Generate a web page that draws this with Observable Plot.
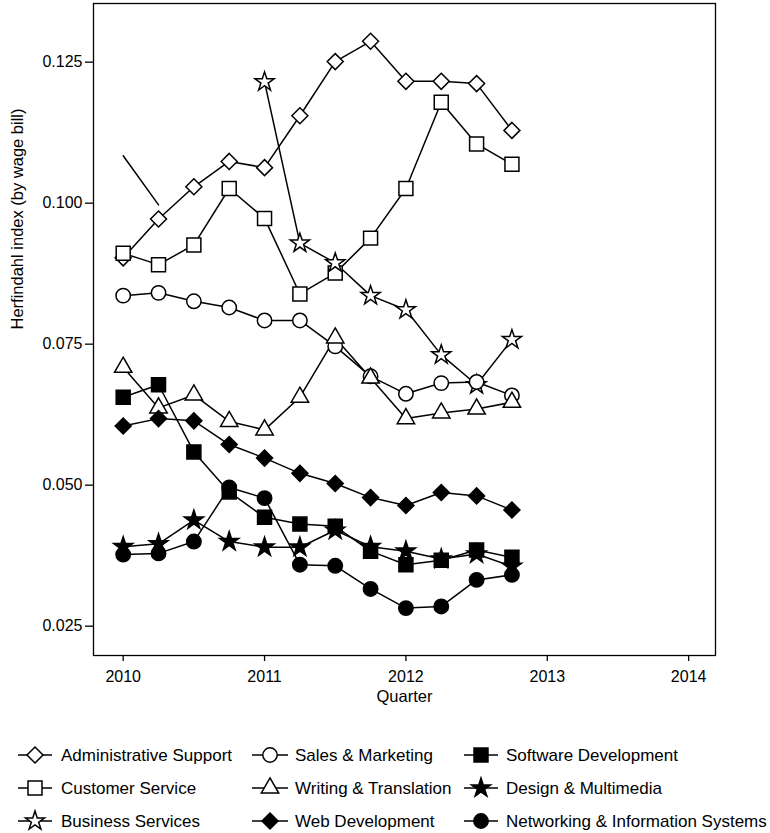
<!DOCTYPE html>
<html>
<head>
<meta charset="utf-8">
<script src="https://cdn.jsdelivr.net/npm/d3@7"></script>
<script src="https://cdn.jsdelivr.net/npm/@observablehq/plot@0.6"></script>
<style>
  html, body { margin: 0; padding: 0; background: white; }
  #chart svg { display: block; }
</style>
</head>
<body>
<div id="chart"></div>
<script>
const quarters = [2010, 2010.25, 2010.5, 2010.75, 2011, 2011.25, 2011.5, 2011.75, 2012, 2012.25, 2012.5, 2012.75];

const adminSupport        = [0.0903, 0.0972, 0.1029, 0.1074, 0.1063, 0.1155, 0.1251, 0.1287, 0.1216, 0.1216, 0.1212, 0.1129];
const customerService     = [0.0911, 0.0891, 0.0926, 0.1026, 0.0973, 0.0839, 0.0876, 0.0938, 0.1026, 0.1179, 0.1105, 0.1069];
const businessServices    = [null, null, null, null, 0.1215, 0.0929, 0.0894, 0.0836, 0.0811, 0.0731, 0.0678, 0.0758];
const salesMarketing      = [0.0836, 0.0841, 0.0826, 0.0815, 0.0792, 0.0792, 0.0746, 0.0693, 0.0662, 0.0681, 0.0683, 0.0659];
const writingTranslation  = [0.0709, 0.0637, 0.0660, 0.0613, 0.0598, 0.0656, 0.0761, 0.0690, 0.0618, 0.0628, 0.0635, 0.0647];
const webDevelopment      = [0.0605, 0.0618, 0.0614, 0.0572, 0.0548, 0.0521, 0.0503, 0.0478, 0.0464, 0.0487, 0.0481, 0.0456];
const softwareDevelopment = [0.0656, 0.0678, 0.0559, 0.0488, 0.0443, 0.0431, 0.0427, 0.0383, 0.0359, 0.0367, 0.0385, 0.0372];
const designMultimedia    = [0.0391, 0.0396, 0.0438, 0.0400, 0.0390, 0.0390, 0.0420, 0.0391, 0.0383, 0.0369, 0.0378, 0.0356];
const networkingSystems   = [0.0377, 0.0379, 0.0400, 0.0496, 0.0477, 0.0359, 0.0357, 0.0316, 0.0282, 0.0285, 0.0332, 0.0341];

// stray unmarked segment near 2010 in the original figure
const strayX = [2010, 2010.25];
const strayY = [0.1084, 0.0997];

const seriesNames = [
  "Administrative Support", "Customer Service", "Business Services",
  "Sales & Marketing", "Writing & Translation", "Web Development",
  "Software Development", "Design & Multimedia", "Networking & Information Systems"
];
const seriesValues = [
  adminSupport, customerService, businessServices,
  salesMarketing, writingTranslation, webDevelopment,
  softwareDevelopment, designMultimedia, networkingSystems
];
const seriesSymbols = ["diamond2", "square2", "star", "circle", "triangle2", "diamond2", "square2", "star", "circle"];
const seriesFilled  = [false, false, false, false, false, true, true, true, true];

const xTicks = [2010, 2011, 2012, 2013, 2014];
const yTicks = [0.025, 0.050, 0.075, 0.100, 0.125];
const xLabel = "Quarter";
const yLabel = "Herfindahl index (by wage bill)";

const symbolR = {diamond2: 7.2, square2: 8.9, star: 6.0, circle: 7.2, triangle2: 8.3};
const d3Symbols = {diamond2: d3.symbolDiamond2, square2: d3.symbolSquare2, star: d3.symbolStar, circle: d3.symbolCircle, triangle2: d3.symbolTriangle2};

const series = seriesNames.map((name, i) => ({
  name,
  symbol: seriesSymbols[i],
  filled: seriesFilled[i],
  data: quarters.map((q, j) => ({q, v: seriesValues[i][j]})).filter(d => d.v != null)
}));
const stray = strayX.map((x, i) => ({q: x, v: strayY[i]}));

const lineMarks = series.map(s => Plot.line(s.data, {x: "q", y: "v", stroke: "black", strokeWidth: 1.5}));
const dotMarks = series.map(s => Plot.dot(s.data, {
  x: "q", y: "v", symbol: () => s.symbol, r: symbolR[s.symbol],
  fill: s.filled ? "black" : "white", stroke: "black", strokeWidth: 1.5
}));

const chart = Plot.plot({
  width: 770,
  height: 720,
  marginLeft: 93,
  marginRight: 55,
  marginTop: 3,
  marginBottom: 65,
  x: {domain: [2009.79, 2014.19]},
  y: {domain: [0.0198, 0.1354]},
  symbol: {type: "identity"},
  style: {fontFamily: "'Liberation Sans', Arial, sans-serif", fontSize: "16px", color: "black", background: "white"},
  marks: [
    Plot.axisX({ticks: xTicks, tickFormat: d => String(d), tickSize: 6, tickPadding: 9, label: null, strokeWidth: 1.3}),
    Plot.axisY({ticks: yTicks, tickFormat: d3.format(".3f"), tickSize: 8, tickPadding: 3, label: null, strokeWidth: 1.3}),
    Plot.line(stray, {x: "q", y: "v", stroke: "black", strokeWidth: 1.5}),
    ...lineMarks,
    ...dotMarks,
    Plot.frame({stroke: "black", strokeWidth: 1.3}),
    Plot.text([xLabel], {frameAnchor: "bottom", dy: 46, text: d => d, fontSize: 16.5}),
    Plot.text([yLabel], {frameAnchor: "left", dx: -76, rotate: -90, text: d => d, fontSize: 16.5})
  ]
});
document.getElementById("chart").appendChild(chart);

// Legend below the plot
const legendCols = [{line0: 18, line1: 52, text: 61}, {line0: 252, line1: 288, text: 295}, {line0: 464, line1: 498, text: 506}];
const legendRows = [35, 68, 101];
const legend = d3.select("#chart").append("svg")
  .attr("width", 770).attr("height", 113)
  .style("font-family", "'Liberation Sans', Arial, sans-serif");
series.forEach((s, i) => {
  const col = legendCols[Math.floor(i / 3)];
  const cy = legendRows[i % 3];
  const g = legend.append("g");
  g.append("line").attr("x1", col.line0).attr("x2", col.line1).attr("y1", cy).attr("y2", cy)
    .attr("stroke", "black").attr("stroke-width", 1.5);
  const r = symbolR[s.symbol];
  g.append("path")
    .attr("d", d3.symbol(d3Symbols[s.symbol], Math.PI * r * r)())
    .attr("transform", `translate(${(col.line0 + col.line1) / 2},${cy})`)
    .attr("fill", s.filled ? "black" : "white").attr("stroke", "black").attr("stroke-width", 1.5);
  g.append("text").attr("x", col.text).attr("y", cy).attr("dy", "0.35em")
    .attr("font-size", 17).attr("fill", "black").text(s.name);
});
</script>
</body>
</html>
